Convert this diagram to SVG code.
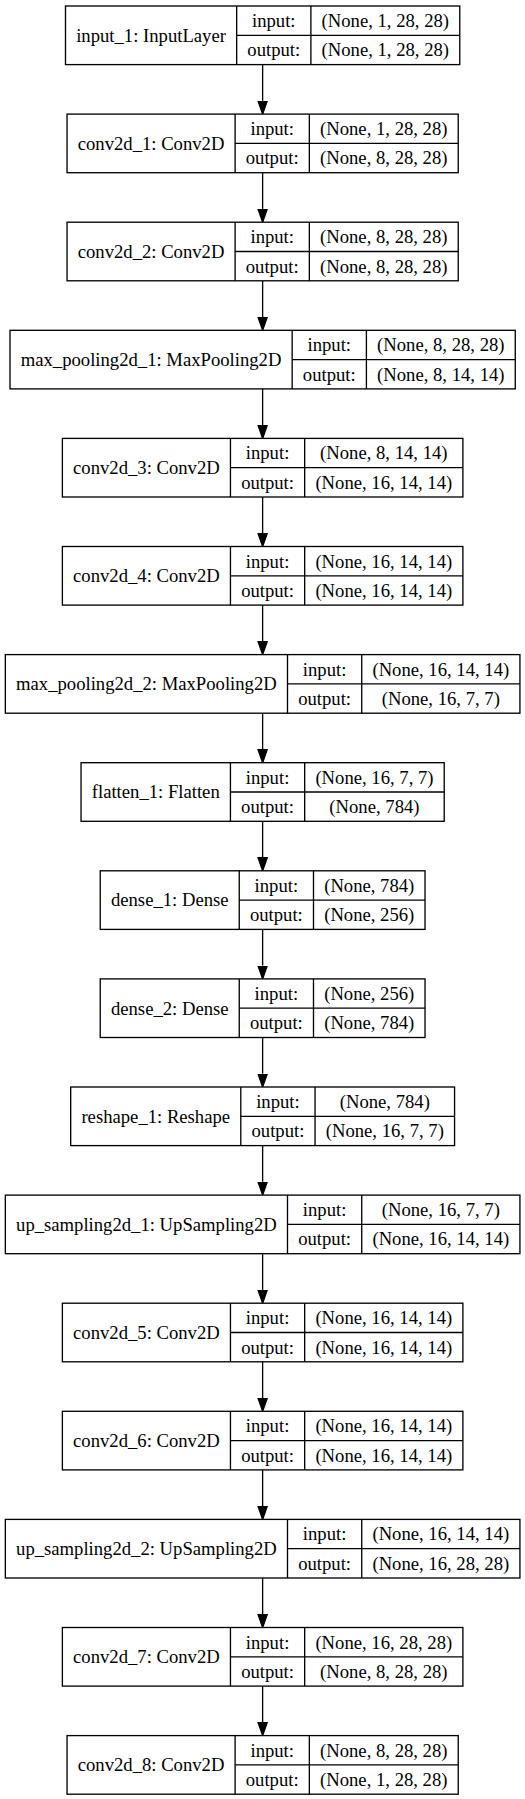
<svg xmlns="http://www.w3.org/2000/svg" width="525" height="1799" viewBox="0 0 525 1799">
<style>
.b{fill:#fff;stroke:#000;stroke-width:1.33}
.l{stroke:#000;stroke-width:1.33;fill:none}
text{font-family:"Liberation Serif","Times New Roman",serif;font-size:18.67px;fill:#000;text-anchor:middle}
.e{stroke:#000;stroke-width:1.33;fill:none;marker-end:url(#ah)}
</style>
<defs>
<marker id="ah" markerUnits="userSpaceOnUse" markerWidth="16" markerHeight="12" refX="0" refY="6" orient="auto" viewBox="0 0 16 12">
<path d="M0,1.33 L13.33,6 L0,10.67 Z" fill="#000" stroke="#000" stroke-width="1.33"/>
</marker>
</defs>
<rect width="525" height="1799" fill="#fff"/>

<g id="connectors">
<line class="e" x1="262.63" y1="64.6" x2="262.63" y2="100.77"/>
<line class="e" x1="262.63" y1="172.7" x2="262.63" y2="208.87"/>
<line class="e" x1="262.63" y1="280.8" x2="262.63" y2="316.97"/>
<line class="e" x1="262.63" y1="388.9" x2="262.63" y2="425.07"/>
<line class="e" x1="262.63" y1="497.0" x2="262.63" y2="533.17"/>
<line class="e" x1="262.63" y1="605.1" x2="262.63" y2="641.27"/>
<line class="e" x1="262.63" y1="713.2" x2="262.63" y2="749.37"/>
<line class="e" x1="262.63" y1="821.3" x2="262.63" y2="857.47"/>
<line class="e" x1="262.63" y1="929.4" x2="262.63" y2="965.57"/>
<line class="e" x1="262.63" y1="1037.5" x2="262.63" y2="1073.67"/>
<line class="e" x1="262.63" y1="1145.6" x2="262.63" y2="1181.77"/>
<line class="e" x1="262.63" y1="1253.7" x2="262.63" y2="1289.87"/>
<line class="e" x1="262.63" y1="1361.8" x2="262.63" y2="1397.97"/>
<line class="e" x1="262.63" y1="1469.9" x2="262.63" y2="1506.07"/>
<line class="e" x1="262.63" y1="1578.0" x2="262.63" y2="1614.17"/>
<line class="e" x1="262.63" y1="1686.1" x2="262.63" y2="1722.27"/>
</g>

<g id="input_1" transform="translate(0,6)">
<rect class="b" x="65.49" y="0" width="394.28" height="58.6"/>
<line class="l" x1="236.66" y1="0" x2="236.66" y2="58.6"/>
<line class="l" x1="310.89" y1="0" x2="310.89" y2="58.6"/>
<line class="l" x1="236.66" y1="29.3" x2="459.77" y2="29.3"/>
<text x="151.07" y="35.7">input_1: InputLayer</text>
<text x="273.78" y="21.05">input:</text>
<text x="273.78" y="50.35">output:</text>
<text x="385.33" y="21.05">(None, 1, 28, 28)</text>
<text x="385.33" y="50.35">(None, 1, 28, 28)</text>
</g>

<g id="conv2d_1" transform="translate(0,114.1)">
<rect class="b" x="67.04" y="0" width="391.18" height="58.6"/>
<line class="l" x1="235.11" y1="0" x2="235.11" y2="58.6"/>
<line class="l" x1="309.34" y1="0" x2="309.34" y2="58.6"/>
<line class="l" x1="235.11" y1="29.3" x2="458.22" y2="29.3"/>
<text x="151.07" y="35.7">conv2d_1: Conv2D</text>
<text x="272.23" y="21.05">input:</text>
<text x="272.23" y="50.35">output:</text>
<text x="383.78" y="21.05">(None, 1, 28, 28)</text>
<text x="383.78" y="50.35">(None, 8, 28, 28)</text>
</g>

<g id="conv2d_2" transform="translate(0,222.2)">
<rect class="b" x="67.04" y="0" width="391.18" height="58.6"/>
<line class="l" x1="235.11" y1="0" x2="235.11" y2="58.6"/>
<line class="l" x1="309.34" y1="0" x2="309.34" y2="58.6"/>
<line class="l" x1="235.11" y1="29.3" x2="458.22" y2="29.3"/>
<text x="151.07" y="35.7">conv2d_2: Conv2D</text>
<text x="272.23" y="21.05">input:</text>
<text x="272.23" y="50.35">output:</text>
<text x="383.78" y="21.05">(None, 8, 28, 28)</text>
<text x="383.78" y="50.35">(None, 8, 28, 28)</text>
</g>

<g id="max_pooling2d_1" transform="translate(0,330.3)">
<rect class="b" x="10.0" y="0" width="505.27" height="58.6"/>
<line class="l" x1="292.16" y1="0" x2="292.16" y2="58.6"/>
<line class="l" x1="366.40" y1="0" x2="366.40" y2="58.6"/>
<line class="l" x1="292.16" y1="29.3" x2="515.27" y2="29.3"/>
<text x="151.08" y="35.7">max_pooling2d_1: MaxPooling2D</text>
<text x="329.28" y="21.05">input:</text>
<text x="329.28" y="50.35">output:</text>
<text x="440.84" y="21.05">(None, 8, 28, 28)</text>
<text x="440.84" y="50.35">(None, 8, 14, 14)</text>
</g>

<g id="conv2d_3" transform="translate(0,438.4)">
<rect class="b" x="62.38" y="0" width="400.51" height="58.6"/>
<line class="l" x1="230.45" y1="0" x2="230.45" y2="58.6"/>
<line class="l" x1="304.68" y1="0" x2="304.68" y2="58.6"/>
<line class="l" x1="230.45" y1="29.3" x2="462.89" y2="29.3"/>
<text x="146.41" y="35.7">conv2d_3: Conv2D</text>
<text x="267.57" y="21.05">input:</text>
<text x="267.57" y="50.35">output:</text>
<text x="383.79" y="21.05">(None, 8, 14, 14)</text>
<text x="383.79" y="50.35">(None, 16, 14, 14)</text>
</g>

<g id="conv2d_4" transform="translate(0,546.5)">
<rect class="b" x="62.38" y="0" width="400.51" height="58.6"/>
<line class="l" x1="230.45" y1="0" x2="230.45" y2="58.6"/>
<line class="l" x1="304.68" y1="0" x2="304.68" y2="58.6"/>
<line class="l" x1="230.45" y1="29.3" x2="462.89" y2="29.3"/>
<text x="146.41" y="35.7">conv2d_4: Conv2D</text>
<text x="267.57" y="21.05">input:</text>
<text x="267.57" y="50.35">output:</text>
<text x="383.79" y="21.05">(None, 16, 14, 14)</text>
<text x="383.79" y="50.35">(None, 16, 14, 14)</text>
</g>

<g id="max_pooling2d_2" transform="translate(0,654.6)">
<rect class="b" x="5.33" y="0" width="514.6" height="58.6"/>
<line class="l" x1="287.49" y1="0" x2="287.49" y2="58.6"/>
<line class="l" x1="361.73" y1="0" x2="361.73" y2="58.6"/>
<line class="l" x1="287.49" y1="29.3" x2="519.93" y2="29.3"/>
<text x="146.41" y="35.7">max_pooling2d_2: MaxPooling2D</text>
<text x="324.61" y="21.05">input:</text>
<text x="324.61" y="50.35">output:</text>
<text x="440.83" y="21.05">(None, 16, 14, 14)</text>
<text x="440.83" y="50.35">(None, 16, 7, 7)</text>
</g>

<g id="flatten_1" transform="translate(0,762.7)">
<rect class="b" x="81.04" y="0" width="363.17" height="58.6"/>
<line class="l" x1="230.44" y1="0" x2="230.44" y2="58.6"/>
<line class="l" x1="304.68" y1="0" x2="304.68" y2="58.6"/>
<line class="l" x1="230.44" y1="29.3" x2="444.21" y2="29.3"/>
<text x="155.74" y="35.7">flatten_1: Flatten</text>
<text x="267.56" y="21.05">input:</text>
<text x="267.56" y="50.35">output:</text>
<text x="374.45" y="21.05">(None, 16, 7, 7)</text>
<text x="374.45" y="50.35">(None, 784)</text>
</g>

<g id="dense_1" transform="translate(0,870.8)">
<rect class="b" x="100.24" y="0" width="324.79" height="58.6"/>
<line class="l" x1="239.25" y1="0" x2="239.25" y2="58.6"/>
<line class="l" x1="313.49" y1="0" x2="313.49" y2="58.6"/>
<line class="l" x1="239.25" y1="29.3" x2="425.03" y2="29.3"/>
<text x="169.75" y="35.7">dense_1: Dense</text>
<text x="276.37" y="21.05">input:</text>
<text x="276.37" y="50.35">output:</text>
<text x="369.26" y="21.05">(None, 784)</text>
<text x="369.26" y="50.35">(None, 256)</text>
</g>

<g id="dense_2" transform="translate(0,978.9)">
<rect class="b" x="100.24" y="0" width="324.79" height="58.6"/>
<line class="l" x1="239.25" y1="0" x2="239.25" y2="58.6"/>
<line class="l" x1="313.49" y1="0" x2="313.49" y2="58.6"/>
<line class="l" x1="239.25" y1="29.3" x2="425.03" y2="29.3"/>
<text x="169.75" y="35.7">dense_2: Dense</text>
<text x="276.37" y="21.05">input:</text>
<text x="276.37" y="50.35">output:</text>
<text x="369.26" y="21.05">(None, 256)</text>
<text x="369.26" y="50.35">(None, 784)</text>
</g>

<g id="reshape_1" transform="translate(0,1087.0)">
<rect class="b" x="70.69" y="0" width="383.88" height="58.6"/>
<line class="l" x1="240.80" y1="0" x2="240.80" y2="58.6"/>
<line class="l" x1="315.04" y1="0" x2="315.04" y2="58.6"/>
<line class="l" x1="240.80" y1="29.3" x2="454.57" y2="29.3"/>
<text x="155.75" y="35.7">reshape_1: Reshape</text>
<text x="277.92" y="21.05">input:</text>
<text x="277.92" y="50.35">output:</text>
<text x="384.81" y="21.05">(None, 784)</text>
<text x="384.81" y="50.35">(None, 16, 7, 7)</text>
</g>

<g id="up_sampling2d_1" transform="translate(0,1195.1)">
<rect class="b" x="5.33" y="0" width="514.6" height="58.6"/>
<line class="l" x1="287.49" y1="0" x2="287.49" y2="58.6"/>
<line class="l" x1="361.73" y1="0" x2="361.73" y2="58.6"/>
<line class="l" x1="287.49" y1="29.3" x2="519.93" y2="29.3"/>
<text x="146.41" y="35.7">up_sampling2d_1: UpSampling2D</text>
<text x="324.61" y="21.05">input:</text>
<text x="324.61" y="50.35">output:</text>
<text x="440.83" y="21.05">(None, 16, 7, 7)</text>
<text x="440.83" y="50.35">(None, 16, 14, 14)</text>
</g>

<g id="conv2d_5" transform="translate(0,1303.2)">
<rect class="b" x="62.38" y="0" width="400.51" height="58.6"/>
<line class="l" x1="230.45" y1="0" x2="230.45" y2="58.6"/>
<line class="l" x1="304.68" y1="0" x2="304.68" y2="58.6"/>
<line class="l" x1="230.45" y1="29.3" x2="462.89" y2="29.3"/>
<text x="146.41" y="35.7">conv2d_5: Conv2D</text>
<text x="267.57" y="21.05">input:</text>
<text x="267.57" y="50.35">output:</text>
<text x="383.79" y="21.05">(None, 16, 14, 14)</text>
<text x="383.79" y="50.35">(None, 16, 14, 14)</text>
</g>

<g id="conv2d_6" transform="translate(0,1411.3)">
<rect class="b" x="62.38" y="0" width="400.51" height="58.6"/>
<line class="l" x1="230.45" y1="0" x2="230.45" y2="58.6"/>
<line class="l" x1="304.68" y1="0" x2="304.68" y2="58.6"/>
<line class="l" x1="230.45" y1="29.3" x2="462.89" y2="29.3"/>
<text x="146.41" y="35.7">conv2d_6: Conv2D</text>
<text x="267.57" y="21.05">input:</text>
<text x="267.57" y="50.35">output:</text>
<text x="383.79" y="21.05">(None, 16, 14, 14)</text>
<text x="383.79" y="50.35">(None, 16, 14, 14)</text>
</g>

<g id="up_sampling2d_2" transform="translate(0,1519.4)">
<rect class="b" x="5.33" y="0" width="514.6" height="58.6"/>
<line class="l" x1="287.49" y1="0" x2="287.49" y2="58.6"/>
<line class="l" x1="361.73" y1="0" x2="361.73" y2="58.6"/>
<line class="l" x1="287.49" y1="29.3" x2="519.93" y2="29.3"/>
<text x="146.41" y="35.7">up_sampling2d_2: UpSampling2D</text>
<text x="324.61" y="21.05">input:</text>
<text x="324.61" y="50.35">output:</text>
<text x="440.83" y="21.05">(None, 16, 14, 14)</text>
<text x="440.83" y="50.35">(None, 16, 28, 28)</text>
</g>

<g id="conv2d_7" transform="translate(0,1627.5)">
<rect class="b" x="62.38" y="0" width="400.51" height="58.6"/>
<line class="l" x1="230.45" y1="0" x2="230.45" y2="58.6"/>
<line class="l" x1="304.68" y1="0" x2="304.68" y2="58.6"/>
<line class="l" x1="230.45" y1="29.3" x2="462.89" y2="29.3"/>
<text x="146.41" y="35.7">conv2d_7: Conv2D</text>
<text x="267.57" y="21.05">input:</text>
<text x="267.57" y="50.35">output:</text>
<text x="383.79" y="21.05">(None, 16, 28, 28)</text>
<text x="383.79" y="50.35">(None, 8, 28, 28)</text>
</g>

<g id="conv2d_8" transform="translate(0,1735.6)">
<rect class="b" x="67.04" y="0" width="391.18" height="58.6"/>
<line class="l" x1="235.11" y1="0" x2="235.11" y2="58.6"/>
<line class="l" x1="309.34" y1="0" x2="309.34" y2="58.6"/>
<line class="l" x1="235.11" y1="29.3" x2="458.22" y2="29.3"/>
<text x="151.07" y="35.7">conv2d_8: Conv2D</text>
<text x="272.23" y="21.05">input:</text>
<text x="272.23" y="50.35">output:</text>
<text x="383.78" y="21.05">(None, 8, 28, 28)</text>
<text x="383.78" y="50.35">(None, 1, 28, 28)</text>
</g>
</svg>
